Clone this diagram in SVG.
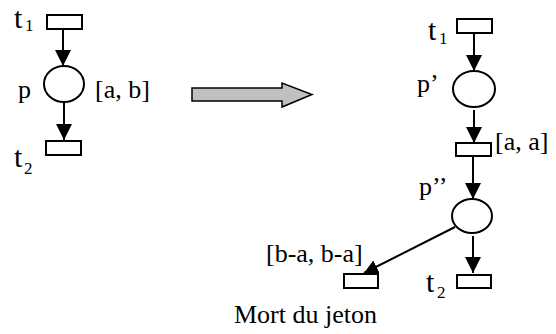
<svg xmlns="http://www.w3.org/2000/svg" width="556" height="334" viewBox="0 0 556 334">
<style>
.n{fill:#fff;stroke:#000;stroke-width:2}
.c{fill:none;stroke:#000;stroke-width:2}
text{font-family:"Liberation Serif","Times New Roman","DejaVu Serif",serif;fill:#000}
.l{font-size:26px}
.t{font-size:30px}
.s{font-size:17px}
</style>
<defs>
<marker id="ah" markerUnits="userSpaceOnUse" markerWidth="17" markerHeight="16" refX="16" refY="8" orient="auto" viewBox="0 0 17 16">
<path d="M0,0 L16,8 L0,16 z" fill="#000"/>
</marker>
<marker id="ahs" markerUnits="userSpaceOnUse" markerWidth="15" markerHeight="14" refX="14" refY="7" orient="auto" viewBox="0 0 15 14">
<path d="M0,0 L14,7 L0,14 z" fill="#000"/>
</marker>
</defs>
<g id="connectors">
<line class="c" x1="63" y1="29" x2="63" y2="66" marker-end="url(#ah)"/>
<line class="c" x1="64" y1="103" x2="64" y2="140" marker-end="url(#ah)"/>
<line class="c" x1="474" y1="33" x2="474" y2="71" marker-end="url(#ah)"/>
<line class="c" x1="474" y1="110" x2="474" y2="143" marker-end="url(#ah)"/>
<line class="c" x1="473" y1="156" x2="473" y2="199" marker-end="url(#ah)"/>
<line class="c" x1="473" y1="236" x2="473" y2="273" marker-end="url(#ah)"/>
<line class="c" x1="455" y1="227" x2="364" y2="273" marker-end="url(#ahs)"/>
</g>
<g id="transform-arrow">
<polygon points="192,88 282,88 282,83 312,94.5 282,107 282,101 192,101" fill="#c0c0c0" stroke="#000" stroke-width="1.5"/>
</g>
<g id="t1-left">
<rect class="n" x="47" y="15" width="35" height="14"/>
<text class="t" x="14" y="28">t</text><text class="s" x="25" y="31">1</text>
</g>
<g id="p-left">
<ellipse class="n" cx="64" cy="84" rx="20" ry="18"/>
<text class="l" x="18" y="98">p</text>
<text class="l" x="95" y="98">[a, b]</text>
</g>
<g id="t2-left">
<rect class="n" x="46" y="141" width="35" height="14"/>
<text class="t" x="14" y="167">t</text><text class="s" x="24" y="174">2</text>
</g>
<g id="t1-right">
<rect class="n" x="457" y="19" width="35" height="14"/>
<text class="t" x="428" y="40">t</text><text class="s" x="439" y="44">1</text>
</g>
<g id="p1-right">
<ellipse class="n" cx="474" cy="89" rx="21" ry="18"/>
<text class="l" x="417" y="92">p’</text>
</g>
<g id="ta-right">
<rect class="n" x="456" y="143" width="35" height="13"/>
<text class="l" x="495" y="150">[a, a]</text>
</g>
<g id="p2-right">
<ellipse class="n" cx="472" cy="216" rx="20" ry="17"/>
<text class="l" x="419" y="195">p’’</text>
</g>
<g id="t2-right">
<rect class="n" x="457" y="275" width="34" height="13"/>
<text class="t" x="426" y="292">t</text><text class="s" x="437" y="298">2</text>
</g>
<g id="death">
<rect class="n" x="344" y="274" width="34" height="14"/>
<text class="l" x="266" y="262">[b-a, b-a]</text>
<text class="l" x="234" y="323">Mort du jeton</text>
</g>
</svg>
